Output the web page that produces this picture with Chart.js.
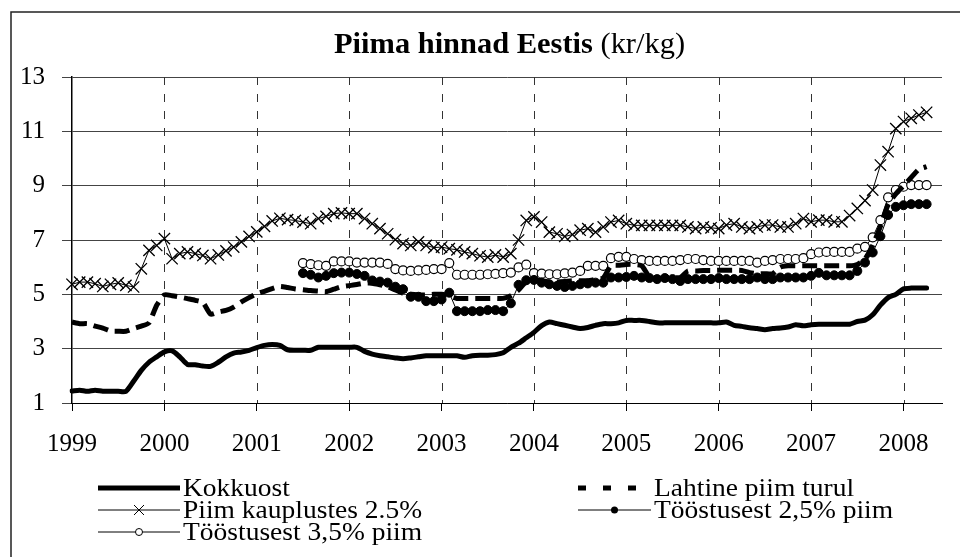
<!DOCTYPE html>
<html>
<head>
<meta charset="utf-8">
<script src="https://cdn.jsdelivr.net/npm/chart.js@4.4.1/dist/chart.umd.min.js"></script>
<style>
  html, body { margin: 0; background: #fff; }
  #wrap { width: 960px; height: 557px; position: relative; }
</style>
</head>
<body>
<div id="wrap"><canvas id="milkChart" width="960" height="557"></canvas></div>
<script>
// monthly data, Jan 1999 .. Jun 2008
const years = ["1999", "2000", "2001", "2002", "2003", "2004", "2005", "2006", "2007", "2008"];
const yTicks = [1, 3, 5, 7, 9, 11, 13];

const kokkuost = [
  1.44, 1.47, 1.43, 1.47, 1.43, 1.43, 1.43, 1.43, 1.8, 2.2, 2.5, 2.7,
  2.88, 2.92, 2.7, 2.42, 2.41, 2.36, 2.35, 2.5, 2.7, 2.84, 2.88, 2.94,
  3.04, 3.12, 3.15, 3.12, 2.96, 2.94, 2.94, 2.94, 3.05, 3.05, 3.05, 3.05,
  3.05, 3.05, 2.9, 2.8, 2.74, 2.7, 2.66, 2.63, 2.66, 2.7, 2.74, 2.74,
  2.74, 2.74, 2.74, 2.68, 2.74, 2.76, 2.76, 2.78, 2.85, 3.05, 3.2, 3.4,
  3.6, 3.85, 3.98, 3.92, 3.86, 3.8, 3.74, 3.78, 3.86, 3.92, 3.92, 3.95,
  4.04, 4.04, 4.04, 4.0, 3.95, 3.95, 3.95, 3.95, 3.95, 3.95, 3.95, 3.95,
  3.95, 3.98, 3.86, 3.82, 3.77, 3.74, 3.7, 3.74, 3.76, 3.8, 3.88, 3.84,
  3.88, 3.9, 3.9, 3.9, 3.9, 3.9, 4.0, 4.05, 4.25, 4.6, 4.88, 5.0,
  5.2, 5.23, 5.23, 5.23, null, null
];

const lahtine = [
  3.98, 3.92, 3.92, 3.83, 3.76, 3.65, 3.64, 3.64, 3.74, 3.83, 3.95, 4.6,
  4.98, 4.95, 4.9, 4.84, 4.78, 4.7, 4.27, 4.35, 4.41, 4.53, 4.72, 4.88,
  5.02, 5.11, 5.21, 5.29, 5.25, 5.2, 5.17, 5.14, 5.12, 5.1, 5.19, 5.28,
  5.32, 5.36, 5.41, 5.41, 5.35, 5.28, 5.16, 5.04, 5.0, 4.98, 4.98, 5.0,
  5.0, 4.94, 4.85, 4.85, 4.85, 4.85, 4.85, 4.85, 4.85, 4.95, 5.16, 5.47,
  5.53, 5.5, 5.45, 5.45, 5.47, 5.5, 5.5, 5.5, 5.55, 5.6, 6.05, 6.07,
  6.1, 6.1, 6.05, 5.65, 5.6, 5.6, 5.62, 5.62, 5.86, 5.86, 5.88, 5.88,
  5.89, 5.89, 5.89, 5.88, 5.8, 5.76, 5.76, 5.76, 6.0, 6.05, 6.05, 6.05,
  6.05, 6.05, 6.05, 6.05, 6.05, 6.05, 6.1, 6.3, 6.8, 7.5, 8.3, 8.7,
  9.0, 9.3, 9.6, 9.7, null, null
];

const piimKauplustes = [
  5.37, 5.45, 5.45, 5.39, 5.29, 5.37, 5.42, 5.33, 5.27, 5.94, 6.62, 6.8,
  7.05, 6.31, 6.5, 6.56, 6.5, 6.43, 6.31, 6.45, 6.6, 6.74, 6.93, 7.13,
  7.3, 7.5, 7.7, 7.8, 7.75, 7.72, 7.66, 7.6, 7.79, 7.87, 7.97, 8.0,
  7.97, 7.97, 7.79, 7.6, 7.42, 7.23, 7.01, 6.87, 6.8, 6.93, 6.8, 6.72,
  6.74, 6.68, 6.64, 6.56, 6.5, 6.42, 6.37, 6.45, 6.37, 6.5, 7.0, 7.72,
  7.85, 7.66, 7.29, 7.23, 7.13, 7.2, 7.36, 7.42, 7.29, 7.48, 7.66, 7.72,
  7.6, 7.54, 7.54, 7.54, 7.54, 7.54, 7.54, 7.54, 7.48, 7.42, 7.48, 7.45,
  7.42, 7.55, 7.6, 7.48, 7.42, 7.48, 7.55, 7.55, 7.48, 7.48, 7.6, 7.79,
  7.67, 7.73, 7.73, 7.67, 7.67, 7.9, 8.16, 8.45, 8.84, 9.76, 10.25, 11.1,
  11.36, 11.48, 11.6, 11.7, null, null
];

// the two industry series start in July 2001
const tooStart = 30;
const toostus25 = [
  5.78, 5.72, 5.62, 5.68, 5.78, 5.8,
  5.8, 5.75, 5.68, 5.51, 5.47, 5.43, 5.28, 5.19, 4.91, 4.91, 4.75, 4.75,
  4.81, 5.06, 4.38, 4.38, 4.38, 4.38, 4.42, 4.42, 4.38, 4.67, 5.35, 5.52,
  5.53, 5.43, 5.37, 5.31, 5.27, 5.31, 5.37, 5.4, 5.43, 5.43, 5.62, 5.62,
  5.64, 5.68, 5.62, 5.6, 5.56, 5.6, 5.56, 5.49, 5.56, 5.56, 5.56, 5.56,
  5.6, 5.56, 5.56, 5.56, 5.56, 5.62, 5.56, 5.56, 5.62, 5.62, 5.62, 5.62,
  5.68, 5.79, 5.7, 5.7, 5.7, 5.7, 5.86, 6.17, 6.54, 7.14, 7.92, 8.22,
  8.28, 8.32, 8.32, 8.32, null, null
];
const toostus35 = [
  6.15, 6.11, 6.07, 6.05, 6.21, 6.21,
  6.21, 6.17, 6.17, 6.17, 6.17, 6.12, 5.93, 5.88, 5.86, 5.88, 5.9, 5.93,
  5.93, 6.15, 5.72, 5.72, 5.72, 5.72, 5.74, 5.75, 5.78, 5.8, 5.99, 6.09,
  5.78, 5.76, 5.74, 5.74, 5.77, 5.8, 5.86, 6.05, 6.05, 6.05, 6.33, 6.38,
  6.38, 6.3, 6.26, 6.23, 6.23, 6.23, 6.23, 6.26, 6.3, 6.3, 6.26, 6.23,
  6.23, 6.23, 6.23, 6.23, 6.23, 6.17, 6.23, 6.26, 6.3, 6.3, 6.3, 6.33,
  6.48, 6.54, 6.56, 6.56, 6.56, 6.56, 6.68, 6.75, 7.1, 7.73, 8.57, 8.84,
  8.96, 9.02, 9.02, 9.02, null, null
];

const seriesNames = ["Kokkuost", "Lahtine piim turul", "Piim kauplustes 2.5%",
  "Tööstusest 2,5% piim", "Tööstusest 3,5% piim"];

const labels = [];
years.forEach((y) => {
  for (let m = 1; m <= 12; m++) labels.push(y + "-" + String(m).padStart(2, "0"));
});
labels.length = kokkuost.length;

function fromStart(start, values) {
  return new Array(start).fill(null).concat(values);
}

const serif = "'Liberation Serif', 'Times New Roman', serif";

// stretched text, the original fonts are a bit wider than Liberation Serif
function wideText(ctx, text, x, y, sx) {
  ctx.save();
  ctx.translate(x, y);
  ctx.scale(sx, 1);
  ctx.fillText(text, 0, 0);
  const w = ctx.measureText(text).width * sx;
  ctx.restore();
  return w;
}

// dashed year lines, frame, two-part title and legend
const decorations = {
  id: "decorations",
  beforeDatasetsDraw(chart) {
    const ctx = chart.ctx;
    const xs = chart.scales.x;
    const area = chart.chartArea;
    ctx.save();
    ctx.strokeStyle = "#333";
    ctx.lineWidth = 1;
    ctx.setLineDash([8, 9]);
    for (let i = 12; i < labels.length; i += 12) {
      const px = Math.round(xs.getPixelForValue(i)) + 0.5;
      ctx.beginPath();
      ctx.moveTo(px, area.top);
      ctx.lineTo(px, area.bottom);
      ctx.stroke();
    }
    ctx.restore();
  },
  afterDraw(chart) {
    const ctx = chart.ctx;
    ctx.save();
    // outer frame (right side is cut off in the original)
    ctx.strokeStyle = "#222";
    ctx.lineWidth = 1.5;
    ctx.beginPath();
    ctx.moveTo(11, 557);
    ctx.lineTo(11, 12);
    ctx.lineTo(960, 12);
    ctx.stroke();

    ctx.fillStyle = "#000";
    ctx.textBaseline = "alphabetic";
    ctx.textAlign = "left";
    ctx.font = "bold 29px " + serif;
    const w1 = wideText(ctx, "Piima hinnad Eestis", 334, 53, 1.05);
    ctx.font = "29px " + serif;
    wideText(ctx, " (kr/kg)", 334 + w1, 53, 1.05);

    // legend
    const rows = [488, 510, 532];
    const items = [
      { x1: 98, x2: 180, tx: 183, y: rows[0], kind: "thick" },
      { x1: 578, x2: 636, tx: 654, y: rows[0], kind: "dash" },
      { x1: 98, x2: 180, tx: 183, y: rows[1], kind: "cross" },
      { x1: 578, x2: 651, tx: 654, y: rows[1], kind: "dot" },
      { x1: 98, x2: 180, tx: 183, y: rows[2], kind: "ring" },
    ];
    ctx.font = "25px " + serif;
    ctx.textBaseline = "middle";
    items.forEach((it, i) => {
      ctx.strokeStyle = "#000";
      ctx.fillStyle = "#000";
      ctx.setLineDash([]);
      const mid = (it.x1 + it.x2) / 2;
      if (it.kind === "thick") {
        ctx.lineWidth = 5;
        ctx.beginPath(); ctx.moveTo(it.x1, it.y); ctx.lineTo(it.x2, it.y); ctx.stroke();
      } else if (it.kind === "dash") {
        ctx.lineWidth = 5;
        ctx.setLineDash([8, 17]);
        ctx.beginPath(); ctx.moveTo(it.x1, it.y); ctx.lineTo(it.x2, it.y); ctx.stroke();
        ctx.setLineDash([]);
      } else {
        ctx.lineWidth = 1;
        ctx.beginPath(); ctx.moveTo(it.x1, it.y); ctx.lineTo(it.x2, it.y); ctx.stroke();
        if (it.kind === "cross") {
          ctx.beginPath();
          ctx.moveTo(mid - 5, it.y - 5); ctx.lineTo(mid + 5, it.y + 5);
          ctx.moveTo(mid - 5, it.y + 5); ctx.lineTo(mid + 5, it.y - 5);
          ctx.stroke();
        } else if (it.kind === "dot") {
          ctx.beginPath(); ctx.arc(mid, it.y, 3.5, 0, Math.PI * 2); ctx.fill();
        } else {
          ctx.fillStyle = "#fff";
          ctx.beginPath(); ctx.arc(mid, it.y, 3.5, 0, Math.PI * 2); ctx.fill(); ctx.stroke();
          ctx.fillStyle = "#000";
        }
      }
      wideText(ctx, seriesNames[i], it.tx, it.y + 1, 1.1);
    });
    ctx.restore();
  },
};

new Chart(document.getElementById("milkChart"), {
  type: "line",
  data: {
    labels: labels,
    datasets: [
      {
        label: seriesNames[0],
        data: kokkuost,
        borderColor: "#000",
        borderWidth: 5,
        pointRadius: 0,
        tension: 0.25,
        borderJoinStyle: "round",
        borderCapStyle: "round",
      },
      {
        label: seriesNames[1],
        data: lahtine,
        borderColor: "#000",
        borderWidth: 5,
        borderDash: [15, 7],
        pointRadius: 0,
        tension: 0.2,
      },
      {
        label: seriesNames[2],
        data: piimKauplustes,
        borderColor: "#000",
        borderWidth: 1,
        pointStyle: "crossRot",
        pointRadius: 8,
        pointBorderWidth: 1.3,
        pointBorderColor: "#000",
      },
      {
        label: seriesNames[3],
        data: fromStart(tooStart, toostus25),
        borderColor: "#000",
        borderWidth: 1,
        pointStyle: "circle",
        pointRadius: 4.5,
        pointBackgroundColor: "#000",
        pointBorderColor: "#000",
      },
      {
        label: seriesNames[4],
        data: fromStart(tooStart, toostus35),
        borderColor: "#000",
        borderWidth: 1,
        pointStyle: "circle",
        pointRadius: 4.5,
        pointBorderWidth: 1.2,
        pointBackgroundColor: "#fff",
        pointBorderColor: "#000",
      },
    ],
  },
  options: {
    responsive: false,
    animation: false,
    layout: { padding: { top: 77, right: 0, bottom: 0, left: 0 } },
    plugins: {
      legend: { display: false },
      title: { display: false },
      tooltip: { enabled: false },
    },
    scales: {
      x: {
        type: "category",
        offset: false,
        afterFit: (scale) => { scale.height = 154; },
        grid: {
          drawOnChartArea: false,
          lineWidth: 1,
          tickLength: 8,
          tickColor: (c) => (c.index % 12 === 0 ? "#000" : "rgba(0,0,0,0)"),
        },
        border: { display: true, color: "#000", width: 1 },
        ticks: {
          autoSkip: false,
          maxRotation: 0,
          color: "#000",
          padding: 18,
          font: { family: serif, size: 25 },
          callback: (v, i) => (i % 12 === 0 ? labels[i].slice(0, 4) : ""),
        },
      },
      y: {
        min: 1,
        max: 13,
        afterFit: (scale) => { scale.width = 72; },
        afterBuildTicks: (scale) => { scale.ticks = yTicks.map((v) => ({ value: v })); },
        grid: { color: "#444", lineWidth: 1, tickLength: 10 },
        border: { display: true, color: "#000", width: 1.5 },
        ticks: {
          color: "#000",
          padding: 17,
          font: { family: serif, size: 25 },
        },
      },
    },
  },
  plugins: [decorations],
});
</script>
</body>
</html>
